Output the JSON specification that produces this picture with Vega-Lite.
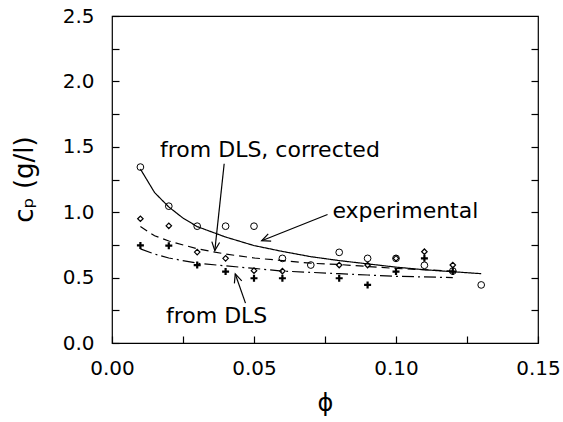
{
  "$schema": "https://vega.github.io/schema/vega-lite/v6.json",
  "width": 426,
  "height": 327,
  "autosize": {"type": "none"},
  "padding": {"left": 112, "top": 16, "right": 25, "bottom": 79},
  "background": "white",
  "config": {
    "view": {"stroke": "black", "strokeWidth": 1.2},
    "axis": {
      "domain": false, "grid": false,
      "labelFont": "DejaVu Sans", "labelFontSize": 20, "labelColor": "black",
      "titleFont": "DejaVu Sans", "titleFontWeight": "normal", "titleColor": "black",
      "tickColor": "black", "tickSize": -7, "tickWidth": 1.2
    }
  },
  "datasets": {
    "pts": [
      {"phi": 0.01, "cp": 1.345, "set": "exp"},
      {"phi": 0.02, "cp": 1.046, "set": "exp"},
      {"phi": 0.03, "cp": 0.893, "set": "exp"},
      {"phi": 0.04, "cp": 0.893, "set": "exp"},
      {"phi": 0.05, "cp": 0.893, "set": "exp"},
      {"phi": 0.06, "cp": 0.647, "set": "exp"},
      {"phi": 0.07, "cp": 0.596, "set": "exp"},
      {"phi": 0.08, "cp": 0.693, "set": "exp"},
      {"phi": 0.09, "cp": 0.647, "set": "exp"},
      {"phi": 0.10, "cp": 0.647, "set": "exp"},
      {"phi": 0.11, "cp": 0.594, "set": "exp"},
      {"phi": 0.12, "cp": 0.55, "set": "exp"},
      {"phi": 0.13, "cp": 0.444, "set": "exp"},
      {"phi": 0.01, "cp": 0.95, "set": "corr"},
      {"phi": 0.02, "cp": 0.896, "set": "corr"},
      {"phi": 0.03, "cp": 0.695, "set": "corr"},
      {"phi": 0.04, "cp": 0.647, "set": "corr"},
      {"phi": 0.05, "cp": 0.553, "set": "corr"},
      {"phi": 0.06, "cp": 0.55, "set": "corr"},
      {"phi": 0.08, "cp": 0.596, "set": "corr"},
      {"phi": 0.09, "cp": 0.596, "set": "corr"},
      {"phi": 0.10, "cp": 0.647, "set": "corr"},
      {"phi": 0.11, "cp": 0.698, "set": "corr"},
      {"phi": 0.12, "cp": 0.596, "set": "corr"},
      {"phi": 0.01, "cp": 0.746, "set": "dls"},
      {"phi": 0.02, "cp": 0.744, "set": "dls"},
      {"phi": 0.03, "cp": 0.596, "set": "dls"},
      {"phi": 0.04, "cp": 0.546, "set": "dls"},
      {"phi": 0.05, "cp": 0.495, "set": "dls"},
      {"phi": 0.06, "cp": 0.495, "set": "dls"},
      {"phi": 0.08, "cp": 0.495, "set": "dls"},
      {"phi": 0.09, "cp": 0.444, "set": "dls"},
      {"phi": 0.10, "cp": 0.546, "set": "dls"},
      {"phi": 0.11, "cp": 0.647, "set": "dls"},
      {"phi": 0.12, "cp": 0.546, "set": "dls"}
    ],
    "curves": [
      {"phi": 0.01, "cp": 1.33, "series": "exp"},
      {"phi": 0.015, "cp": 1.15, "series": "exp"},
      {"phi": 0.02, "cp": 1.04, "series": "exp"},
      {"phi": 0.025, "cp": 0.955, "series": "exp"},
      {"phi": 0.03, "cp": 0.89, "series": "exp"},
      {"phi": 0.04, "cp": 0.81, "series": "exp"},
      {"phi": 0.05, "cp": 0.745, "series": "exp"},
      {"phi": 0.06, "cp": 0.70, "series": "exp"},
      {"phi": 0.07, "cp": 0.66, "series": "exp"},
      {"phi": 0.08, "cp": 0.63, "series": "exp"},
      {"phi": 0.09, "cp": 0.605, "series": "exp"},
      {"phi": 0.10, "cp": 0.58, "series": "exp"},
      {"phi": 0.11, "cp": 0.56, "series": "exp"},
      {"phi": 0.12, "cp": 0.545, "series": "exp"},
      {"phi": 0.13, "cp": 0.53, "series": "exp"},
      {"phi": 0.01, "cp": 0.89, "series": "corr"},
      {"phi": 0.015, "cp": 0.82, "series": "corr"},
      {"phi": 0.02, "cp": 0.78, "series": "corr"},
      {"phi": 0.03, "cp": 0.72, "series": "corr"},
      {"phi": 0.04, "cp": 0.68, "series": "corr"},
      {"phi": 0.05, "cp": 0.65, "series": "corr"},
      {"phi": 0.06, "cp": 0.63, "series": "corr"},
      {"phi": 0.07, "cp": 0.61, "series": "corr"},
      {"phi": 0.08, "cp": 0.60, "series": "corr"},
      {"phi": 0.09, "cp": 0.585, "series": "corr"},
      {"phi": 0.10, "cp": 0.57, "series": "corr"},
      {"phi": 0.11, "cp": 0.56, "series": "corr"},
      {"phi": 0.12, "cp": 0.55, "series": "corr"},
      {"phi": 0.01, "cp": 0.72, "series": "dls"},
      {"phi": 0.015, "cp": 0.68, "series": "dls"},
      {"phi": 0.02, "cp": 0.65, "series": "dls"},
      {"phi": 0.03, "cp": 0.61, "series": "dls"},
      {"phi": 0.04, "cp": 0.59, "series": "dls"},
      {"phi": 0.05, "cp": 0.57, "series": "dls"},
      {"phi": 0.06, "cp": 0.55, "series": "dls"},
      {"phi": 0.07, "cp": 0.54, "series": "dls"},
      {"phi": 0.08, "cp": 0.53, "series": "dls"},
      {"phi": 0.09, "cp": 0.52, "series": "dls"},
      {"phi": 0.10, "cp": 0.51, "series": "dls"},
      {"phi": 0.11, "cp": 0.505, "series": "dls"},
      {"phi": 0.12, "cp": 0.50, "series": "dls"}
    ],
    "arrows": [
      {"x1": 0.0395, "y1": 1.37, "x2": 0.0362, "y2": 0.706, "ang": 186},
      {"x1": 0.0759, "y1": 0.982, "x2": 0.0527, "y2": 0.782, "ang": 248},
      {"x1": 0.047, "y1": 0.305, "x2": 0.0434, "y2": 0.528, "ang": 341}
    ],
    "labels": [
      {"phi": 0.0169, "cp": 1.472, "t": "from DLS, corrected"},
      {"phi": 0.0776, "cp": 1.01, "t": "experimental"},
      {"phi": 0.019, "cp": 0.208, "t": "from DLS"}
    ]
  },
  "resolve": {"axis": {"y": "independent"}},
  "layer": [
    {
      "data": {"name": "curves"},
      "mark": {"type": "line", "color": "black", "strokeWidth": 1.2},
      "encoding": {
        "x": {
          "field": "phi", "type": "quantitative",
          "scale": {"domain": [0, 0.15], "nice": false, "zero": false},
          "axis": {
            "values": [0, 0.025, 0.05, 0.075, 0.1, 0.125, 0.15],
            "labelExpr": "(round(datum.value*1000) % 50 == 0) ? format(datum.value, '.2f') : ''",
            "labelPadding": 22, "labelFlush": false,
            "title": "ϕ", "titleFontSize": 24, "titlePadding": 13
          }
        },
        "y": {
          "field": "cp", "type": "quantitative",
          "scale": {"domain": [0, 2.5], "nice": false, "zero": false},
          "axis": {
            "values": [0, 0.25, 0.5, 0.75, 1, 1.25, 1.5, 1.75, 2, 2.25, 2.5],
            "labelExpr": "(round(datum.value*100) % 50 == 0) ? format(datum.value, '.1f') : ''",
            "labelPadding": 25, "labelFlush": false,
            "title": "cₚ (g/l)", "titleFontSize": 26,
            "titleX": -88, "titleY": 163, "titleAngle": -90,
            "titleAlign": "center", "titleBaseline": "middle"
          }
        },
        "strokeDash": {
          "field": "series", "type": "nominal",
          "scale": {"domain": ["exp", "corr", "dls"], "range": [[1, 0], [8, 5], [12, 4, 2, 4]]},
          "legend": null
        },
        "detail": {"field": "series"}
      }
    },
    {
      "data": {"name": "curves"},
      "mark": {"type": "line", "opacity": 0},
      "encoding": {
        "x": {"field": "phi", "type": "quantitative"},
        "y": {
          "field": "cp", "type": "quantitative",
          "axis": {
            "orient": "right", "values": [0.25, 0.5, 0.75, 1, 1.25, 1.5, 1.75, 2, 2.25],
            "labels": false, "title": null
          }
        },
        "detail": {"field": "series"}
      }
    },
    {
      "data": {"name": "pts"},
      "transform": [{"filter": "datum.set == 'exp'"}],
      "mark": {"type": "point", "shape": "circle", "filled": false, "stroke": "black", "strokeWidth": 1, "size": 45, "opacity": 1},
      "encoding": {
        "x": {"field": "phi", "type": "quantitative"},
        "y": {"field": "cp", "type": "quantitative", "axis": null}
      }
    },
    {
      "data": {"name": "pts"},
      "transform": [{"filter": "datum.set == 'corr'"}],
      "mark": {"type": "point", "shape": "diamond", "filled": false, "stroke": "black", "strokeWidth": 1.2, "size": 30, "opacity": 1},
      "encoding": {
        "x": {"field": "phi", "type": "quantitative"},
        "y": {"field": "cp", "type": "quantitative", "axis": null}
      }
    },
    {
      "data": {"name": "pts"},
      "transform": [{"filter": "datum.set == 'dls'"}],
      "mark": {"type": "point", "shape": "M-1,0L1,0M0,-1L0,1", "filled": false, "stroke": "black", "strokeWidth": 2.2, "size": 49, "opacity": 1},
      "encoding": {
        "x": {"field": "phi", "type": "quantitative"},
        "y": {"field": "cp", "type": "quantitative", "axis": null}
      }
    },
    {
      "data": {"name": "arrows"},
      "mark": {"type": "rule", "color": "black", "strokeWidth": 1.2},
      "encoding": {
        "x": {"field": "x1", "type": "quantitative"},
        "y": {"field": "y1", "type": "quantitative", "axis": null},
        "x2": {"field": "x2"},
        "y2": {"field": "y2"}
      }
    },
    {
      "data": {"name": "arrows"},
      "mark": {"type": "point", "shape": "M-0.45,1L0,0L0.45,1", "filled": false, "stroke": "black", "strokeWidth": 1.2, "size": 300, "opacity": 1},
      "encoding": {
        "x": {"field": "x2", "type": "quantitative"},
        "y": {"field": "y2", "type": "quantitative", "axis": null},
        "angle": {"field": "ang", "type": "quantitative", "scale": null}
      }
    },
    {
      "data": {"name": "labels"},
      "mark": {"type": "text", "font": "DejaVu Sans", "fontSize": 22, "align": "left", "baseline": "middle", "color": "black"},
      "encoding": {
        "x": {"field": "phi", "type": "quantitative"},
        "y": {"field": "cp", "type": "quantitative", "axis": null},
        "text": {"field": "t"}
      }
    }
  ]
}
